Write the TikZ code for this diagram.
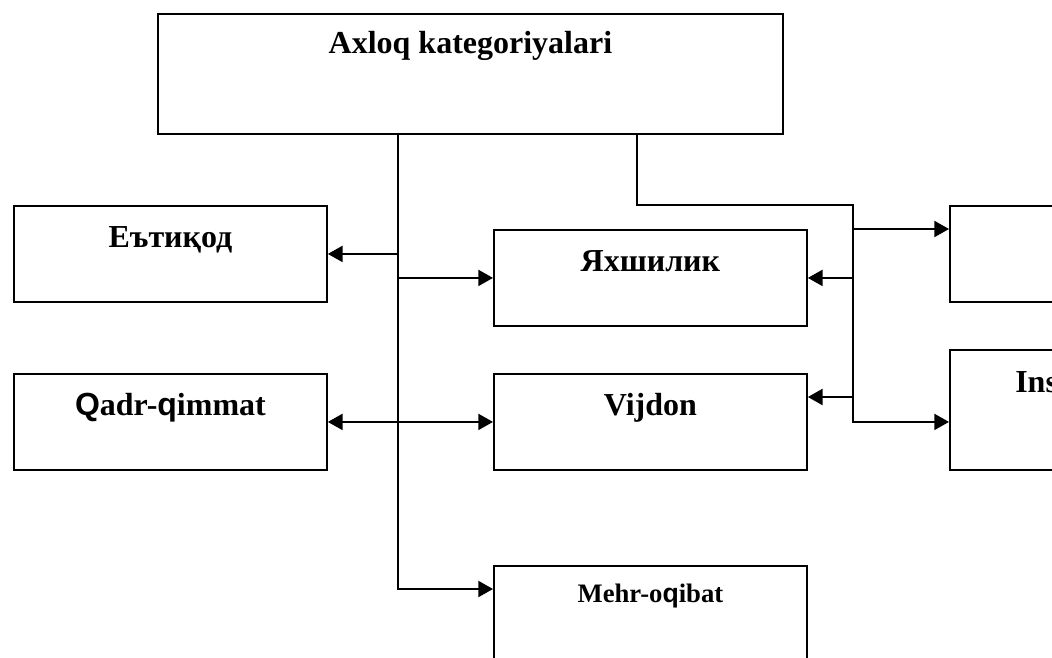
\documentclass[tikz,border=0pt]{standalone}
\usepackage{fontspec}
\setmainfont{Liberation Serif}
\newfontfamily\qsans{Liberation Sans}
\usetikzlibrary{arrows.meta}

\begin{document}
\begin{tikzpicture}[
  x=0.75pt, y=-0.75pt,
  font=\fontsize{24}{28}\selectfont\bfseries,
  cat/.style={draw, line width=1.4pt, anchor=north west, inner sep=0pt,
              minimum width=234.75pt, minimum height=72pt,
              text height=31.5pt, text depth=40.5pt},
  link/.style={line width=1.5pt},
  arr/.style={link, -{Triangle[length=11pt, width=12pt]}},
  twoway/.style={link, {Triangle[length=11pt, width=12pt]}-{Triangle[length=11pt, width=12pt]}},
]
  \useasboundingbox (0,0) rectangle (1052,657);
  \clip (0,0) rectangle (1052,657);

  % Main box
  \node[cat, minimum width=468.75pt, minimum height=90pt,
        text height=30pt, text depth=60pt] (axloq) at (157,13) {Axloq kategoriyalari};

  % Left column
  \node[cat] (etiqod) at (13,205) {Еътиқод};
  \node[cat] (qadr) at (13,373) {{\qsans Q}adr-{\qsans q}immat};

  % Middle column
  \node[cat] (yaxshi) at (493,229) {Яхшилик};
  \node[cat] (vijdon) at (493,373) {Vijdon};
  \node[cat, font=\fontsize{20}{24}\selectfont\bfseries,
        text height=27.75pt, text depth=44.25pt] (mehr) at (493,565) {Mehr-o{\qsans q}ibat};

  % Right column
  \node[cat] (rbox) at (949,205) {};
  \node[cat, minimum height=90pt] (insof) at (949,349) {};
  \node[anchor=base west, inner sep=0pt] (insText) at (1015,392) {Ins};

  % Junctions
  \coordinate (trunk) at (398,0);
  \coordinate (branch) at (637,0);
  \coordinate (riser) at (853,205);
  \coordinate (mehrIn) at ([yshift=-18pt]mehr.north west);
  \coordinate (rboxIn) at ([yshift=-18pt]rbox.north west);
  \coordinate (vijdonIn) at ([yshift=-18pt]vijdon.north east);

  % Left trunk
  \draw[arr] (axloq.south -| trunk) |- (mehrIn);
  \draw[arr] (trunk |- etiqod.east) -- (etiqod.east);
  \draw[arr] (trunk |- yaxshi.west) -- (yaxshi.west);
  \draw[twoway] (qadr.east) -- (vijdon.west);

  % Right branch
  \draw[arr] (axloq.south -| branch) |- (riser) -- (riser |- vijdon.west) -- (insof.west |- vijdon.west);
  \draw[arr] (riser |- rboxIn) -- (rboxIn);
  \draw[arr] (riser |- yaxshi.east) -- (yaxshi.east);
  \draw[arr] (riser |- vijdonIn) -- (vijdonIn);
\end{tikzpicture}
\end{document}
